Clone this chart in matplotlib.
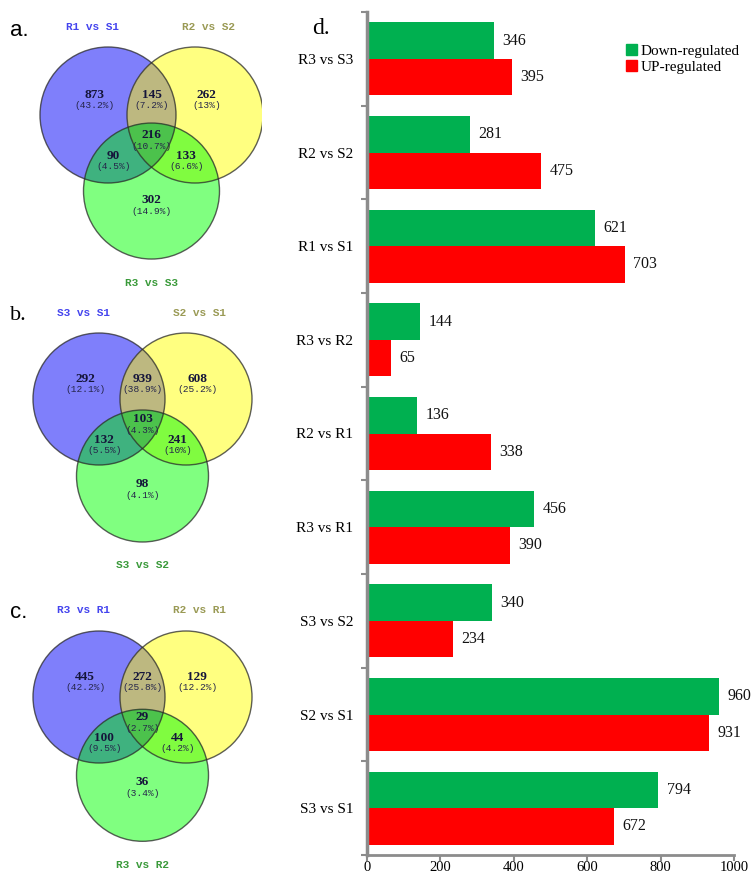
"""Venn diagrams of DEG overlaps (a-c) and up/down counts per comparison (d)."""

import matplotlib

matplotlib.use("Agg")
import matplotlib.pyplot as plt
import numpy as np
from matplotlib.patches import Circle, Patch, Polygon

W, H, DPI = 751, 877, 100

# ---- data -------------------------------------------------------------
comparisons = ["S3 vs S1", "S2 vs S1", "S3 vs S2", "R3 vs R1", "R2 vs R1",
               "R3 vs R2", "R1 vs S1", "R2 vs S2", "R3 vs S3"]
down_reg = [794, 960, 340, 456, 136, 144, 621, 281, 346]
up_reg = [672, 931, 234, 390, 338, 65, 703, 475, 395]

# region order: A only, A&B, B only, A&B&C, A&C, B&C, C only
venn_a_sets = ["R1 vs S1", "R2 vs S2", "R3 vs S3"]
venn_a_counts = [873, 145, 262, 216, 90, 133, 302]
venn_a_pct = ["43.2%", "7.2%", "13%", "10.7%", "4.5%", "6.6%", "14.9%"]

venn_b_sets = ["S3 vs S1", "S2 vs S1", "S3 vs S2"]
venn_b_counts = [292, 939, 608, 103, 132, 241, 98]
venn_b_pct = ["12.1%", "38.9%", "25.2%", "4.3%", "5.5%", "10%", "4.1%"]

venn_c_sets = ["R3 vs R1", "R2 vs R1", "R3 vs R2"]
venn_c_counts = [445, 272, 129, 29, 100, 44, 36]
venn_c_pct = ["42.2%", "25.8%", "12.2%", "2.7%", "9.5%", "4.2%", "3.4%"]

# ---- style ------------------------------------------------------------
SERIF = "Liberation Serif"
MONO = "Liberation Mono"
GREEN_BAR, RED_BAR = "#00b050", "#ff0000"
AXIS_GREY = "#8c8c8c"

C_A, C_B, C_C = "#7f7ffb", "#ffff80", "#80ff80"
C_AB, C_AC, C_BC, C_ABC = "#bdb880", "#3fb27f", "#80fc40", "#4cc24c"
SET_COLORS = ["#4444ee", "#9a9a55", "#3a9a3a"]

# label anchor of each region, in units of the centre spacing
REGION_POS = [(-0.66, 0.23), (0.0, 0.23), (0.63, 0.23), (0.0, -0.23),
              (-0.44, -0.47), (0.40, -0.47), (0.0, -0.98)]

fig = plt.figure(figsize=(W / DPI, H / DPI), dpi=DPI)


def triple_polygon(centres, r, n=2000):
    pts = []
    t = np.linspace(0, 2 * np.pi, n, endpoint=False)
    for i, (cx, cy) in enumerate(centres):
        ring = np.column_stack([cx + r * np.cos(t), cy + r * np.sin(t)])
        keep = np.ones(n, bool)
        for j, (ox, oy) in enumerate(centres):
            if j != i:
                keep &= np.hypot(ring[:, 0] - ox, ring[:, 1] - oy) <= r + 1e-9
        pts.append(ring[keep])
    pts = np.vstack(pts)
    m = pts.mean(axis=0)
    order = np.argsort(np.arctan2(pts[:, 1] - m[1], pts[:, 0] - m[0]))
    return pts[order]


def draw_venn(box, mid, d, r, drop, sets, counts, pcts, set_label_y, tag, tag_font):
    """box = (x0, y0, x1, y1) in pixels; mid = pixel centre between A and B."""
    x0, y0, x1, y1 = box
    ax = fig.add_axes([x0 / W, 1 - y1 / H, (x1 - x0) / W, (y1 - y0) / H])
    ax.set_xlim((x0 - mid[0]) / d, (x1 - mid[0]) / d)
    ax.set_ylim((mid[1] - y1) / d, (mid[1] - y0) / d)
    ax.axis("off")
    rr = r / d
    centres = [(-0.5, 0.0), (0.5, 0.0), (0.0, -drop)]
    circ = [Circle(c, rr, fc=col, ec="none") for c, col in zip(centres, [C_A, C_B, C_C])]
    for c in circ:
        ax.add_patch(c)
    # pairwise overlaps
    for (i, j, col) in [(0, 1, C_AB), (0, 2, C_AC), (1, 2, C_BC)]:
        p = Circle(centres[j], rr, fc=col, ec="none")
        ax.add_patch(p)
        p.set_clip_path(circ[i])
    ax.add_patch(Polygon(triple_polygon(centres, rr), closed=True, fc=C_ABC, ec="none"))
    for c in centres:
        ax.add_patch(Circle(c, rr, fc="none", ec="#2a2a2a", lw=1.0, alpha=0.75))

    for (px, py), n, p in zip(REGION_POS, counts, pcts):
        ax.text(px, py, str(n), ha="center", va="center", fontsize=9.5,
                family=SERIF, weight="bold", color="#15153a")
        ax.text(px, py - 11 / d, f"({p})", ha="center", va="center",
                fontsize=6.8, family=MONO, color="#25254a")

    # set names
    ty = (mid[1] - set_label_y[0]) / d
    ax.text(-0.68, ty, sets[0], ha="center", va="center", fontsize=8,
            family=MONO, weight="bold", color=SET_COLORS[0])
    ax.text(0.65, ty, sets[1], ha="center", va="center", fontsize=8,
            family=MONO, weight="bold", color=SET_COLORS[1])
    ax.text(0.0, (mid[1] - set_label_y[1]) / d, sets[2], ha="center",
            va="center", fontsize=8, family=MONO, weight="bold",
            color=SET_COLORS[2])
    fig.text(10 / W, 1 - (set_label_y[0] + 3) / H, tag, fontsize=16,
             family=tag_font, ha="left", va="center")


draw_venn((0, 0, 262, 292), (151.5, 115), 87, 68, 0.874, venn_a_sets,
          venn_a_counts, venn_a_pct, (27, 283), "a.", "Liberation Sans")
draw_venn((0, 292, 262, 580), (142.5, 399), 87, 66, 0.885, venn_b_sets,
          venn_b_counts, venn_b_pct, (313, 565), "b.", SERIF)
draw_venn((0, 580, 262, 877), (142.5, 697), 87, 66, 0.90, venn_c_sets,
          venn_c_counts, venn_c_pct, (610, 865), "c.", "Liberation Sans")

# ---- d. bar chart -----------------------------------------------------
ax = fig.add_axes([367 / W, 1 - 855 / H, 367 / W, 843 / H])
y = np.arange(len(comparisons))
h = 0.39
b_down = ax.barh(y + h / 2, down_reg, height=h, color=GREEN_BAR, label="Down-regulated")
b_up = ax.barh(y - h / 2, up_reg, height=h, color=RED_BAR, label="UP-regulated")
ax.bar_label(b_down, padding=6, fontsize=11.5, family=SERIF, color="#111111")
ax.bar_label(b_up, padding=6, fontsize=11.5, family=SERIF, color="#111111")

ax.set_xlim(0, 1000)
ax.set_ylim(-0.5, len(comparisons) - 0.5)
ax.set_xticks(range(0, 1001, 200))
ax.set_yticks(y)
ax.set_yticklabels(comparisons)
ax.set_yticks(np.arange(-0.5, len(comparisons)), minor=True)
ax.tick_params(axis="y", which="major", length=0, pad=10, labelsize=11)
ax.tick_params(axis="y", which="minor", length=4, width=1.5, color=AXIS_GREY)
ax.tick_params(axis="x", length=4, width=1.5, color=AXIS_GREY, pad=0.5, labelsize=10.5)
for lab in ax.get_xticklabels() + ax.get_yticklabels():
    lab.set_family(SERIF)
for side in ("top", "right"):
    ax.spines[side].set_visible(False)
ax.spines["left"].set_color(AXIS_GREY)
ax.spines["left"].set_linewidth(2.5)
ax.spines["bottom"].set_color(AXIS_GREY)
ax.spines["bottom"].set_linewidth(2)

handles = [Patch(color=GREEN_BAR, label="Down-regulated"),
           Patch(color=RED_BAR, label="UP-regulated")]
fig.legend(handles=handles, loc="upper left", bbox_to_anchor=(620 / W, 1 - 38 / H),
           frameon=False, prop={"family": SERIF, "size": 11}, handlelength=0.7,
           handleheight=0.7, handletextpad=0.25, labelspacing=0.15, borderaxespad=0)

fig.text(312 / W, 1 - 28 / H, "d.", fontsize=17, family=SERIF, ha="left", va="center")

fig.savefig("out.png", dpi=DPI)
